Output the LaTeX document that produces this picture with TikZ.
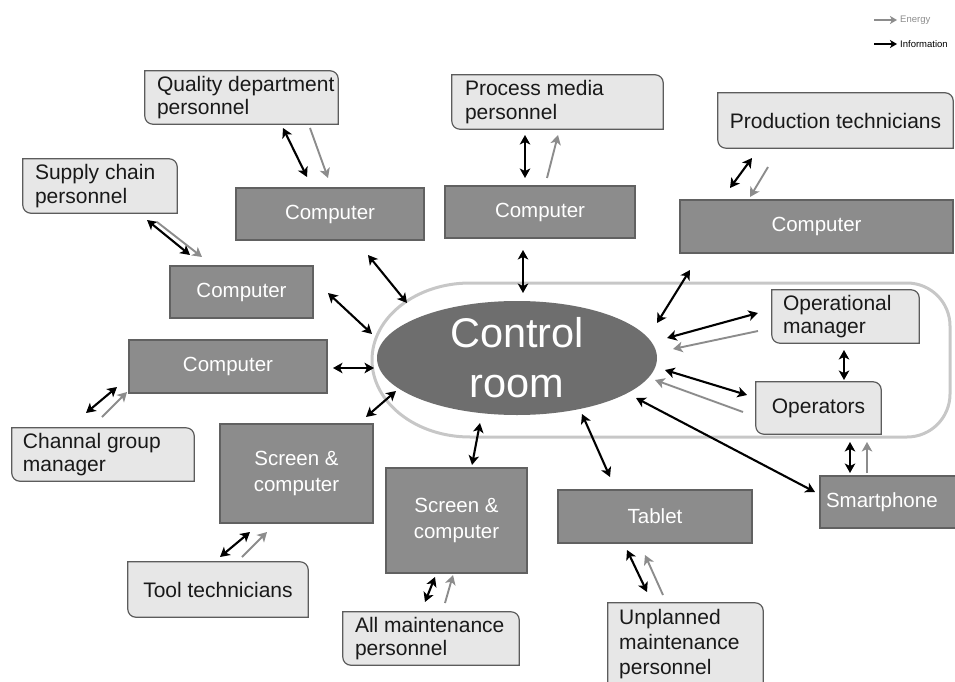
\documentclass[tikz,border=0pt]{standalone}
\usepackage{fontspec}
\setmainfont{Liberation Sans}
\usetikzlibrary{shapes.geometric,arrows.meta,backgrounds}
\definecolor{lightfill}{gray}{0.905}
\definecolor{lightline}{gray}{0.36}
\definecolor{darkfill}{gray}{0.55}
\definecolor{darkline}{gray}{0.38}
\definecolor{roomfill}{gray}{0.43}
\definecolor{pillline}{gray}{0.78}
\definecolor{energy}{gray}{0.55}
\definecolor{txt}{gray}{0.1}
\tikzset{
  lightbox/.style={inner sep=0pt, text=txt, align=center,
    font=\fontsize{21}{23.5}\selectfont},
  lighttext/.style={inner sep=0pt, text=txt, align=left, anchor=west,
    font=\fontsize{21}{23.5}\selectfont},
  lightshape/.style={fill=lightfill, draw=lightline, line width=1.2pt},
  darkbox/.style={fill=darkfill, draw=darkline, line width=1.2pt, text=white,
    align=center, inner sep=0pt, font=\fontsize{20.5}{26}\selectfont},
  info/.style={draw=black, line width=2.1pt, {Stealth[length=9.5pt,width=10.5pt,inset=2.5pt]}-{Stealth[length=9.5pt,width=10.5pt,inset=2.5pt]}},
  energyarrow/.style={draw=energy, line width=1.9pt, -{Stealth[length=9.5pt,width=10.5pt,inset=2.5pt]}},
  legendtext/.style={font=\fontsize{9.5}{10}\selectfont, anchor=west, inner sep=0pt}
}
\begin{document}
\begin{tikzpicture}[x=1pt,y=-1pt]
\useasboundingbox (0,0) rectangle (955,682);

% outer pill
\draw[pillline, line width=3pt] (470,283) -- (907,283)
  arc[start angle=270, end angle=360, radius=43] -- (950,394)
  arc[start angle=0, end angle=90, radius=43] -- (470,437)
  arc[start angle=90, end angle=270, x radius=98, y radius=77] -- cycle;

% control room
\node[ellipse, fill=roomfill, minimum width=280pt, minimum height=114pt, inner sep=0pt,
  text=white, align=center, font=\fontsize{41.5}{50}\selectfont] (room) at (517,358) {Control\\room};

% dark boxes
\node[darkbox, minimum width=188pt, minimum height=52pt] (c1) at (330,214) {Computer};
\node[darkbox, minimum width=190pt, minimum height=52pt] (c2) at (540,212) {Computer};
\node[darkbox, minimum width=273pt, minimum height=53pt] (c3) at (816.5,226.5) {Computer};
\node[darkbox, minimum width=143pt, minimum height=52pt] (c4) at (241.5,292) {Computer};
\node[darkbox, minimum width=198pt, minimum height=53pt] (c5) at (228,366.5) {Computer};
\node[darkbox, minimum width=153pt, minimum height=99pt] (s1) at (296.5,473.5) {Screen \&\\computer};
\node[darkbox, minimum width=141pt, minimum height=105pt] (s2) at (456.5,520.5) {Screen \&\\computer};
\node[darkbox, minimum width=194pt, minimum height=53pt] (tab) at (655,516.5) {Tablet};
\node[darkbox, minimum width=140pt, minimum height=52pt, text width=128pt, align=left] (sm) at (890,502) {Smartphone};

% light boxes (shapes)
\node[lightbox, minimum width=193pt, minimum height=53pt] (qual) at (241.5,97.5) {};
\node[lightbox, minimum width=154pt, minimum height=54pt] (supp) at (100,186) {};
\node[lightbox, minimum width=211pt, minimum height=54pt] (proc) at (557.5,102) {};
\node[lightbox, minimum width=235pt, minimum height=55pt] (prod) at (835.5,120.5) {Production technicians};
\node[lightbox, minimum width=147pt, minimum height=53pt] (opm) at (845.5,316.5) {};
\node[lightbox, minimum width=125pt, minimum height=52pt] (opr) at (818.5,408) {Operators};
\node[lightbox, minimum width=182pt, minimum height=53pt] (chan) at (103,454.5) {};
\node[lightbox, minimum width=180pt, minimum height=55pt] (tool) at (218,589.5) {Tool technicians};
\node[lightbox, minimum width=176pt, minimum height=53pt] (allm) at (431,638.5) {};
\node[lightbox, minimum width=155pt, minimum height=92pt] (unpl) at (685.5,649) {};

% light box texts (left aligned)
\node[lighttext] (qualt) at ([xshift=12pt]qual.west) {Quality department\\personnel};
\node[lighttext] (suppt) at ([xshift=12pt]supp.west) {Supply chain\\personnel};
\node[lighttext] (proct) at ([xshift=13pt]proc.west) {Process media\\personnel};
\node[lighttext] (opmt) at ([xshift=11pt]opm.west) {Operational\\manager};
\node[lighttext] (chant) at ([xshift=11pt]chan.west) {Channal group\\manager};
\node[lighttext] (allmt) at ([xshift=12pt]allm.west) {All maintenance\\personnel};
\node[lighttext, font=\fontsize{21}{25}\selectfont] (unplt) at (619,644.5) {Unplanned\\maintenance\\personnel};

\begin{scope}[on background layer]
\foreach \n in {qual,supp,proc,prod,opm,opr,chan,tool,allm,unpl}{
  \draw[lightshape] (\n.west) -- (\n.north west) [rounded corners=8pt] -- (\n.north east)
    [sharp corners] -- (\n.south east) [rounded corners=8pt] -- (\n.south west)
    [sharp corners] -- cycle;
}
\end{scope}

% information arrows
\foreach \n/\ax/\ay/\bx/\by in {
  1/283/128/307/177, 2/147/220/190/255, 3/525/135/525/178, 4/730/188/752/158,
  5/368/255/407/303, 6/523/250/523/293, 7/690/270/657/323, 8/328/293/372/334,
  9/333/368/374/368, 10/366/417/396/391, 11/472/465/480/423, 12/610/477/582/414,
  13/667/338/758/313, 14/665/370/747/395, 15/844/350/844/380, 16/850/442/850/473,
  17/636/398/815/492, 18/86/413/117/387, 19/220/557/250/532, 20/425/602/435/577,
  21/627/550/647/592}{
  \coordinate (i\n a) at (\ax,\ay);
  \coordinate (i\n b) at (\bx,\by);
  \draw[info] (i\n a) -- (i\n b);
}

% energy arrows
\foreach \n/\ax/\ay/\bx/\by in {
  1/310/128/328/178, 2/157/222/202/257, 3/547/178/558/135, 4/768/167/750/197,
  5/758/331/673/349, 6/743/412/655/380, 7/867/473/867/442, 8/102/417/127/392,
  9/242/557/267/532, 10/445/603/453/575, 11/663/595/645/555}{
  \coordinate (e\n a) at (\ax,\ay);
  \coordinate (e\n b) at (\bx,\by);
  \draw[energyarrow] (e\n a) -- (e\n b);
}

% legend
\coordinate (le1) at (874,20);
\coordinate (le2) at (897,20);
\coordinate (li1) at (874,44);
\coordinate (li2) at (897,44);
\draw[energy, line width=1.6pt, -{Stealth[length=7pt,width=8pt,inset=2pt]}] (le1) -- (le2);
\draw[black, line width=1.6pt, -{Stealth[length=7pt,width=8pt,inset=2pt]}] (li1) -- (li2);
\node[legendtext, text=energy] (legE) at (900,20) {Energy};
\node[legendtext, text=black] (legI) at (900,44) {Information};
\end{tikzpicture}
\end{document}
